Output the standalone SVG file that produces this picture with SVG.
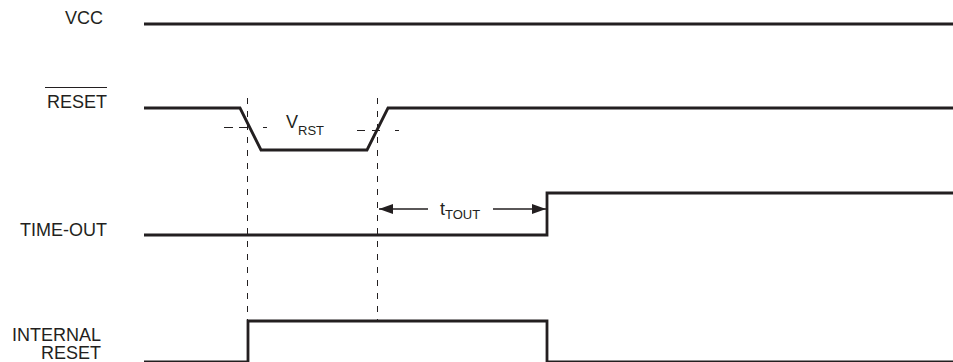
<svg xmlns="http://www.w3.org/2000/svg" width="953" height="362" viewBox="0 0 953 362">
<style>
.lbl{font-family:"Liberation Sans",Arial,sans-serif;font-size:18px;fill:#231f20}
.sub{font-family:"Liberation Sans",Arial,sans-serif;font-size:13px;fill:#231f20}
.sig{fill:none;stroke:#231f20;stroke-width:2.8;stroke-linejoin:miter}
.dash{fill:none;stroke:#231f20;stroke-width:1;stroke-dasharray:6 7}
.thr{fill:none;stroke:#231f20;stroke-width:1}
.arr{fill:none;stroke:#231f20;stroke-width:1.3}
</style>
<defs>
<marker id="ah" viewBox="0 0 14 10" refX="14" refY="5" markerWidth="14" markerHeight="10" markerUnits="userSpaceOnUse" orient="auto-start-reverse">
<path d="M0,0 L14,5 L0,10 Z" fill="#231f20"/>
</marker>
</defs>
<rect width="953" height="362" fill="#ffffff"/>
<g id="vcc">
<text class="lbl" x="103" y="24" text-anchor="end">VCC</text>
<path class="sig" d="M144,24 H953"/>
</g>
<g id="reset">
<text class="lbl" x="107" y="108" text-anchor="end">RESET</text>
<path d="M45,87.5 H107" stroke="#231f20" stroke-width="1.2"/>
<path class="sig" d="M144,108 H240 L261,150 H367 L388,108 H953"/>
<text x="286" y="128"><tspan class="lbl">V</tspan><tspan class="sub" dy="7">RST</tspan></text>
</g>
<g id="time-out">
<text class="lbl" x="107" y="236" text-anchor="end">TIME-OUT</text>
<path class="sig" d="M144,235 H547 V193 H953"/>
</g>
<g id="internal-reset">
<text class="lbl" x="101" y="341" text-anchor="end">INTERNAL</text>
<text class="lbl" x="101" y="359" text-anchor="end">RESET</text>
<path class="sig" d="M144,362 H248 V321 H547 V362 H953"/>
</g>
<g id="connectors">
<path class="dash" d="M247.5,98 V320"/>
<path class="dash" d="M377.5,98 V320"/>
<path class="thr" d="M224,127.5 h9 M239,127.5 h9 M263,127.5 h4"/>
<path class="thr" d="M357,130.5 h8 M372,130.5 h8 M395,130.5 h4"/>
<path class="arr" d="M428,209 H379" marker-end="url(#ah)"/>
<path class="arr" d="M493,209 H546" marker-end="url(#ah)"/>
<text x="440" y="215"><tspan class="lbl">t</tspan><tspan class="sub" dy="4">TOUT</tspan></text>
</g>
</svg>
